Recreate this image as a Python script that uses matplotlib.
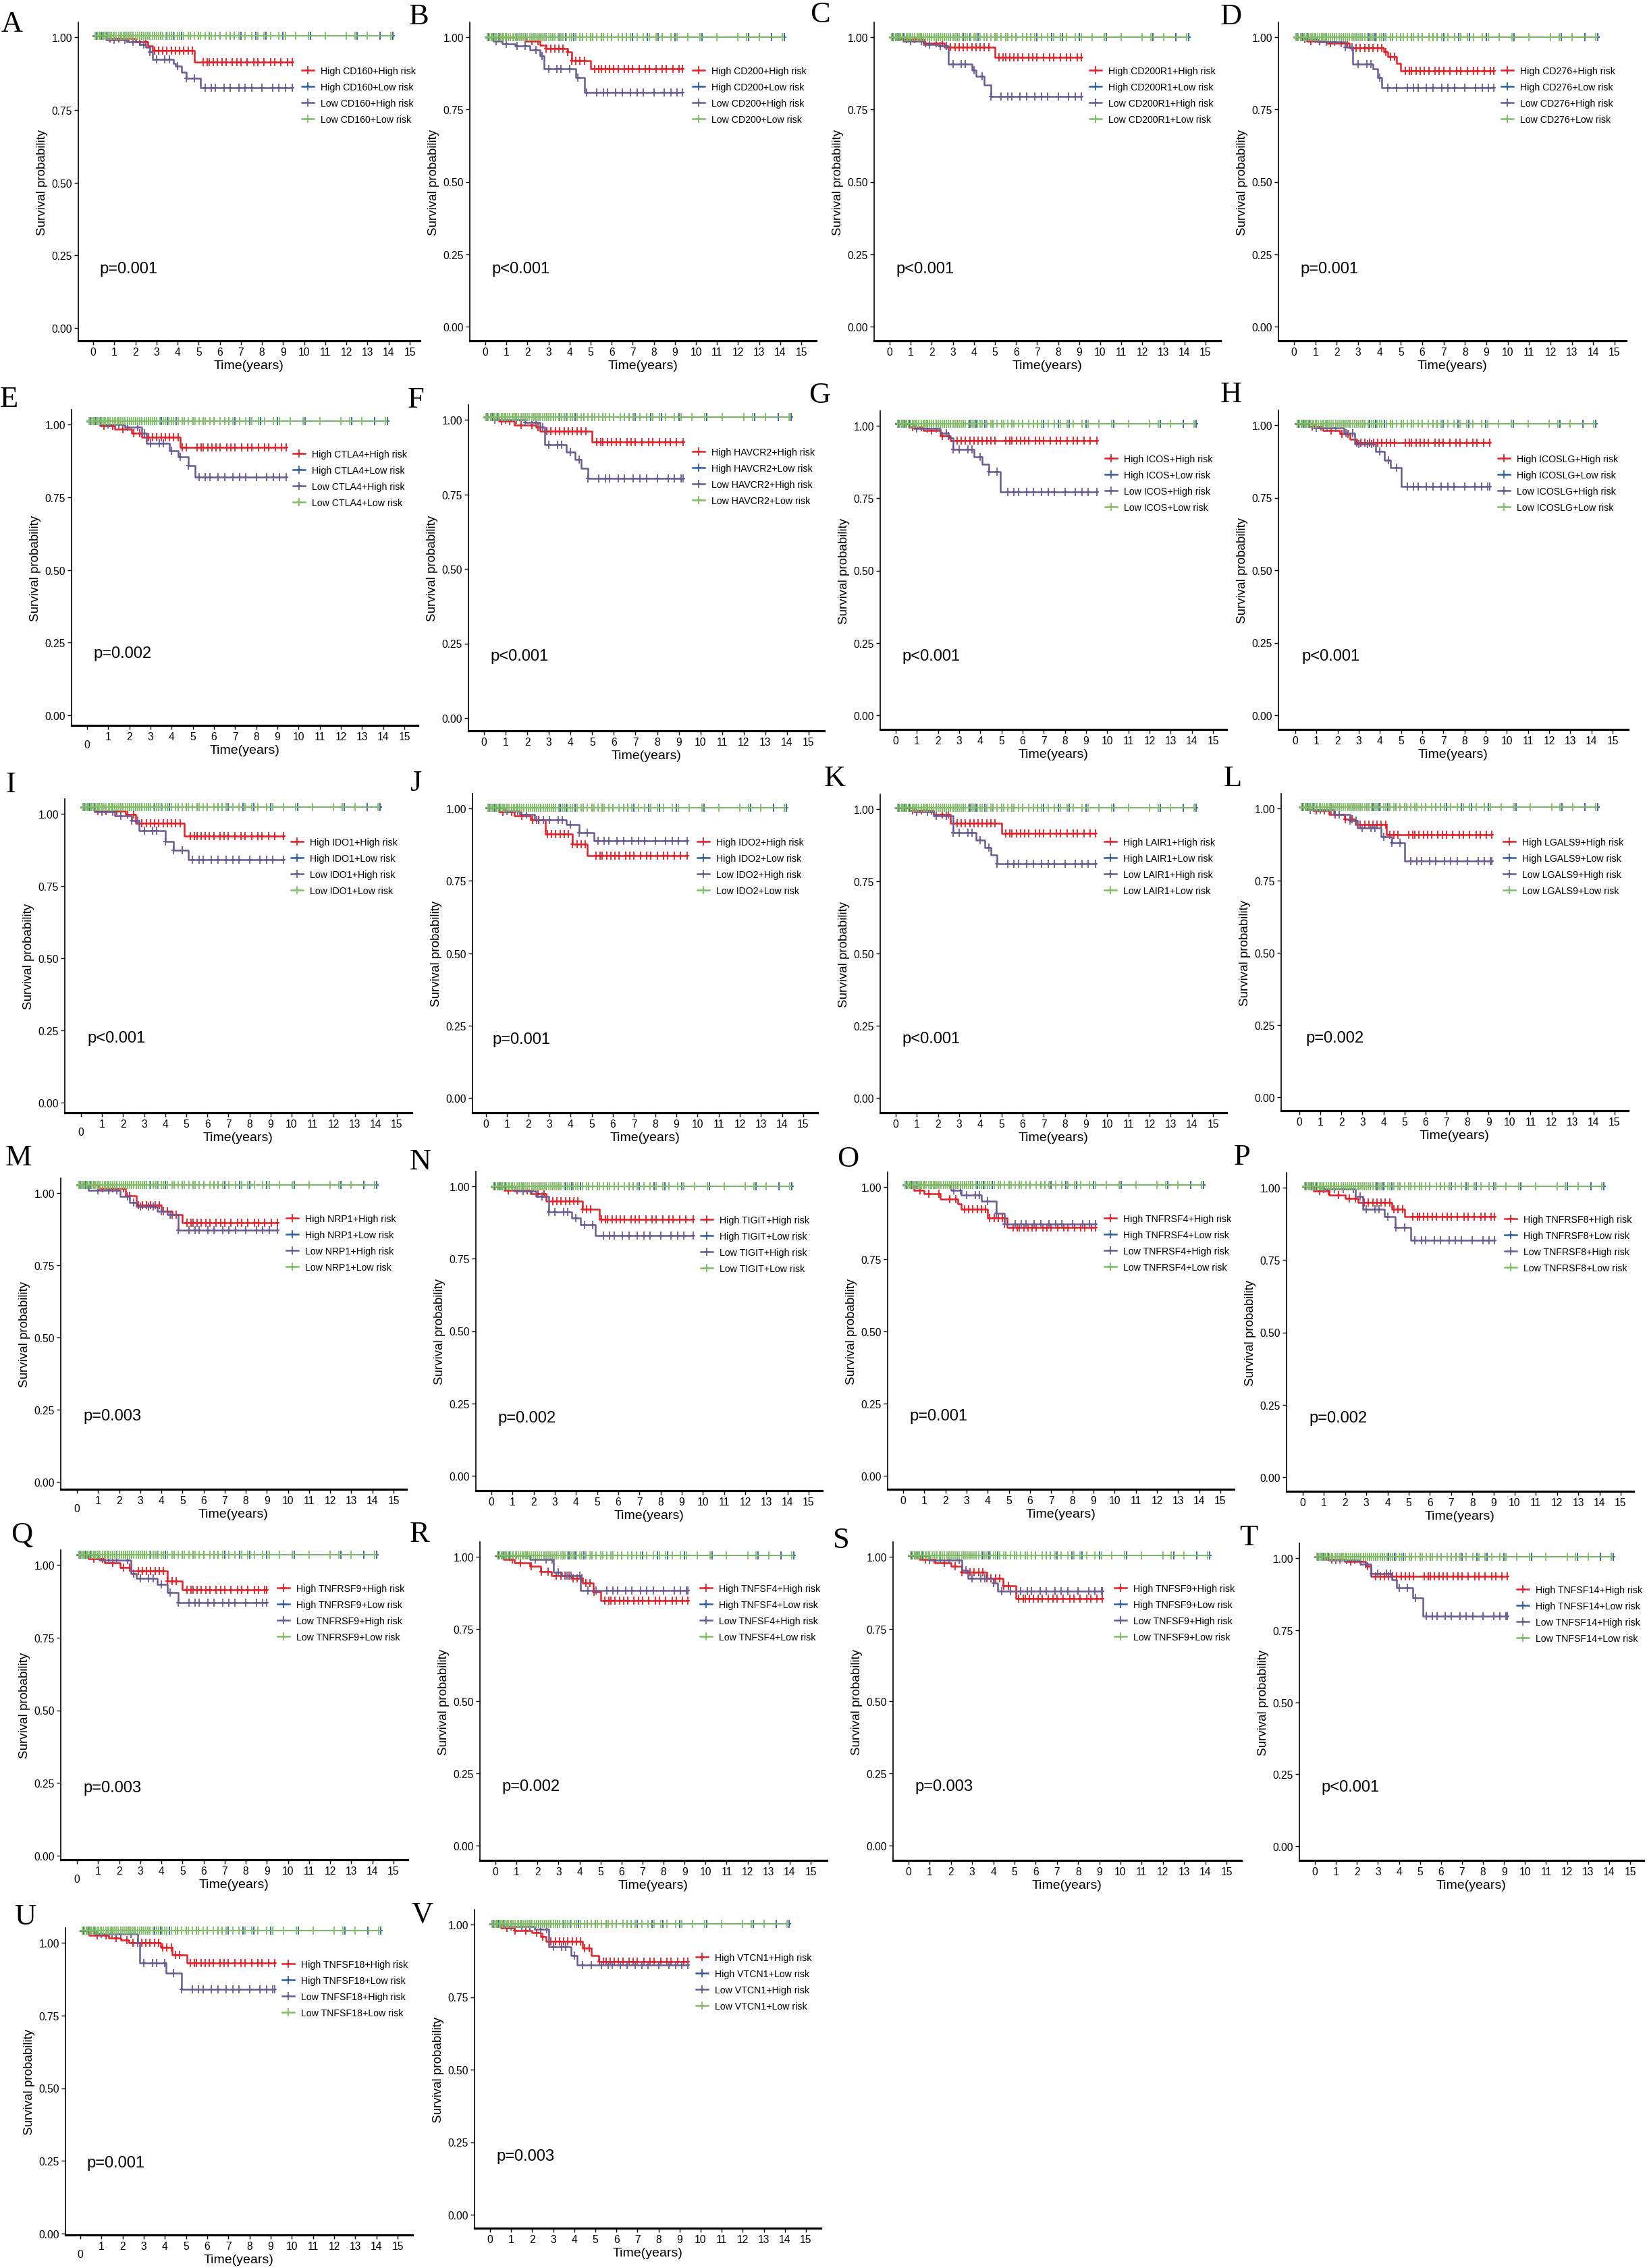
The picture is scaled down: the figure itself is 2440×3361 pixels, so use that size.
import numpy as np
import matplotlib
matplotlib.use('Agg')
import matplotlib.pyplot as plt
import matplotlib.transforms as mtransforms
from matplotlib.lines import Line2D
from matplotlib.path import Path
from matplotlib import font_manager as fm

W, H, DPI = 2440, 3362, 100

try:
    fm.findfont(fm.FontProperties(family='Liberation Sans Narrow'), fallback_to_default=False)
    NARROW, NS, NL = 'Liberation Sans Narrow', 1.0, 1.0
except ValueError:
    NARROW, NS, NL = 'Liberation Sans', 0.9, 0.85

# ---- data ----
letters = list('ABCDEFGHIJKLMNOPQRSTUV')
genes = ['CD160', 'CD200', 'CD200R1', 'CD276', 'CTLA4', 'HAVCR2', 'ICOS', 'ICOSLG',
         'IDO1', 'IDO2', 'LAIR1', 'LGALS9', 'NRP1', 'TIGIT', 'TNFRSF4', 'TNFRSF8',
         'TNFRSF9', 'TNFSF4', 'TNFSF9', 'TNFSF14', 'TNFSF18', 'VTCN1']
pvals = ['p=0.001', 'p<0.001', 'p<0.001', 'p=0.001', 'p=0.002', 'p<0.001', 'p<0.001', 'p<0.001',
         'p<0.001', 'p=0.001', 'p<0.001', 'p=0.002', 'p=0.003', 'p=0.002', 'p=0.001', 'p=0.002',
         'p=0.003', 'p=0.002', 'p=0.003', 'p<0.001', 'p=0.001', 'p=0.003']

# High gene + High risk (red): drop times and survival after each drop
red_t = [[0.6, 2.0, 2.6, 2.8, 4.8], [1.9, 2.6, 2.9, 3.9, 4.1, 5.0], [0.4, 1.6, 2.6, 5.0],
         [0.6, 1.5, 2.6, 4.2, 4.4, 4.8, 5.0], [0.6, 1.3, 2.1, 2.6, 4.4], [0.7, 1.4, 2.4, 2.6, 5.0],
         [0.6, 1.3, 2.1, 2.6], [0.6, 1.3, 2.1, 2.6, 2.9], [0.65, 2.1, 2.6, 4.9],
         [0.6, 1.35, 2.1, 2.8, 4.1, 4.8], [0.6, 1.8, 2.6, 5.0], [0.65, 1.4, 2.15, 2.65, 4.15],
         [1.05, 2.3, 2.8, 4.0, 4.5, 5.0], [0.6, 1.85, 2.6, 4.3, 5.1],
         [0.5, 1.0, 1.75, 2.6, 2.75, 4.0, 4.9], [0.5, 1.25, 2.0, 2.6, 4.2, 4.8],
         [0.55, 1.3, 2.05, 2.55, 4.3, 5.0], [0.4, 0.9, 1.65, 2.15, 2.65, 3.65, 4.15, 4.65, 5.0],
         [0.5, 1.25, 2.0, 2.5, 3.7, 4.45, 5.05], [0.5, 1.4, 2.4, 2.65],
         [0.4, 1.35, 1.9, 2.3, 3.8, 4.35, 5.05], [0.5, 1.15, 2.0, 2.4, 2.65, 4.4, 4.8, 5.15]]
red_s = [[0.99, 0.98, 0.965, 0.95, 0.91], [0.986, 0.973, 0.96, 0.948, 0.918, 0.89],
         [0.992, 0.979, 0.966, 0.93], [0.987, 0.979, 0.962, 0.949, 0.932, 0.909, 0.883],
         [0.983, 0.97, 0.957, 0.944, 0.908], [0.986, 0.973, 0.965, 0.953, 0.917],
         [0.99, 0.977, 0.96, 0.943], [0.99, 0.977, 0.964, 0.947, 0.934], [0.987, 0.975, 0.945, 0.90],
         [0.985, 0.972, 0.959, 0.908, 0.875, 0.834], [0.99, 0.977, 0.947, 0.912],
         [0.986, 0.973, 0.956, 0.939, 0.903], [0.987, 0.962, 0.929, 0.908, 0.896, 0.868],
         [0.987, 0.974, 0.949, 0.92, 0.885], [0.981, 0.969, 0.952, 0.935, 0.915, 0.886, 0.853],
         [0.982, 0.969, 0.957, 0.943, 0.92, 0.893], [0.985, 0.973, 0.956, 0.944, 0.91, 0.88],
         [0.987, 0.974, 0.962, 0.945, 0.929, 0.92, 0.904, 0.875, 0.843],
         [0.987, 0.974, 0.962, 0.941, 0.92, 0.896, 0.85], [0.99, 0.982, 0.965, 0.932],
         [0.983, 0.974, 0.966, 0.957, 0.94, 0.916, 0.888],
         [0.987, 0.978, 0.97, 0.957, 0.94, 0.918, 0.892, 0.871]]
red_end = [9.45, 9.37, 9.1, 9.35, 9.4, 9.2, 9.5, 9.2, 9.6, 9.5, 9.45, 9.15,
           9.5, 9.55, 9.1, 9.05, 9.0, 9.15, 9.15, 9.15, 9.2, 9.4]

# Low gene + High risk (purple)
purple_t = [[0.6, 1.6, 2.2, 2.5, 2.7, 2.8, 3.8, 3.9, 4.2, 4.4, 5.1], [0.4, 0.8, 1.4, 2.1, 2.6, 2.8, 4.3, 4.7],
            [0.65, 1.6, 2.3, 2.8, 3.9, 4.1, 4.5, 4.8], [0.4, 1.1, 2.4, 2.75, 3.7, 3.9, 4.1],
            [0.6, 1.8, 2.6, 2.8, 3.9, 4.3, 4.8, 5.1], [0.4, 1.9, 2.6, 2.8, 3.8, 4.2, 4.5, 4.8],
            [0.85, 2.1, 2.5, 2.7, 3.7, 4.1, 4.4, 4.95], [0.85, 2.3, 2.8, 3.8, 4.2, 4.5, 5.0],
            [0.65, 1.6, 2.4, 2.75, 4.0, 4.4, 5.1], [0.85, 1.6, 2.3, 3.8, 4.4, 5.1],
            [0.85, 1.8, 2.7, 3.8, 4.2, 4.5, 4.8], [0.4, 1.65, 2.4, 2.75, 3.9, 4.4, 5.0],
            [0.55, 2.05, 2.5, 2.8, 3.8, 4.3, 4.8], [1.1, 2.1, 2.7, 3.8, 4.2, 4.9],
            [2.25, 2.75, 3.7, 4.4, 4.8], [1.0, 2.5, 2.85, 3.85, 4.35, 5.1],
            [1.05, 2.55, 2.8, 3.8, 4.3, 4.8], [1.65, 2.75, 3.15, 4.05],
            [1.0, 2.5, 2.8, 4.0, 4.2], [0.65, 2.15, 2.65, 3.65, 3.9, 4.65, 5.15],
            [0.7, 2.7, 2.8, 4.05, 4.8], [0.65, 2.1, 2.8, 3.85, 4.15]]
purple_s = [[0.985, 0.98, 0.97, 0.96, 0.945, 0.918, 0.905, 0.895, 0.874, 0.853, 0.822],
            [0.986, 0.977, 0.969, 0.956, 0.935, 0.89, 0.859, 0.81],
            [0.987, 0.975, 0.97, 0.907, 0.886, 0.864, 0.835, 0.794],
            [0.992, 0.983, 0.966, 0.907, 0.89, 0.86, 0.825],
            [0.987, 0.979, 0.957, 0.923, 0.897, 0.876, 0.845, 0.807],
            [0.99, 0.982, 0.965, 0.907, 0.882, 0.857, 0.828, 0.795],
            [0.985, 0.968, 0.951, 0.913, 0.887, 0.861, 0.835, 0.765],
            [0.985, 0.968, 0.93, 0.904, 0.874, 0.848, 0.784],
            [0.983, 0.97, 0.953, 0.919, 0.881, 0.851, 0.817],
            [0.989, 0.976, 0.959, 0.942, 0.913, 0.886],
            [0.986, 0.973, 0.914, 0.888, 0.863, 0.837, 0.805],
            [0.99, 0.973, 0.952, 0.926, 0.896, 0.875, 0.813],
            [0.979, 0.958, 0.937, 0.925, 0.908, 0.896, 0.842],
            [0.983, 0.966, 0.912, 0.891, 0.866, 0.831],
            [0.981, 0.964, 0.944, 0.902, 0.865],
            [0.99, 0.965, 0.92, 0.895, 0.857, 0.812],
            [0.981, 0.935, 0.919, 0.898, 0.869, 0.836],
            [0.987, 0.941, 0.929, 0.879],
            [0.983, 0.949, 0.92, 0.904, 0.877],
            [0.986, 0.973, 0.94, 0.92, 0.89, 0.857, 0.793],
            [0.987, 0.957, 0.888, 0.852, 0.797],
            [0.991, 0.983, 0.922, 0.892, 0.859]]
purple_end = red_end

# censoring times (years)
red_cens = [0.3, 0.8, 1.2, 1.7, 2.2, 2.5, 2.9, 3.1, 3.3, 3.5, 3.7, 3.9, 4.1, 4.3, 4.5, 4.7,
            5.2, 5.4, 5.5, 5.7, 5.9, 6.1, 6.3, 6.6, 6.8, 7.0, 7.3, 7.6, 7.8, 8.1, 8.4, 8.6, 8.9, 9.2]
purple_cens = [0.5, 1.0, 1.5, 1.9, 2.4, 2.7, 3.0, 3.4, 3.6, 4.0, 4.4, 4.8, 5.3, 5.6, 5.8,
               6.2, 6.5, 6.9, 7.2, 7.5, 8.0, 8.5, 8.8, 9.1]
green_cens = [0.1, 0.2, 0.3, 0.35, 0.45, 0.5, 0.6, 0.7, 0.8, 0.85, 0.95, 1.0, 1.1, 1.2, 1.3, 1.35,
              1.45, 1.5, 1.6, 1.7, 1.8, 1.9, 2.0, 2.1, 2.2, 2.3, 2.4, 2.5, 2.6, 2.7, 2.8, 2.9, 3.0,
              3.1, 3.2, 3.3, 3.45, 3.6, 3.7, 3.85, 4.0, 4.1, 4.3, 4.5, 4.6, 4.8, 5.0, 5.1, 5.3, 5.5,
              5.6, 5.8, 6.0, 6.3, 6.5, 6.7, 6.9, 7.2, 7.5, 7.8, 8.1, 8.4, 8.8, 9.1, 9.6, 10.2, 11.0,
              12.0, 12.4, 13.0, 14.1]
blue_cens = [0.15, 0.4, 0.65, 1.0, 1.5, 1.9, 2.3, 2.6, 2.9, 3.2, 3.5, 3.8, 4.2, 4.6, 5.0, 5.5,
             6.0, 6.5, 6.7, 7.0, 7.7, 8.2, 9.0, 10.3, 12.5, 13.6, 14.2]

# ---- layout (pixels of the 2440x3362 canvas) ----
# left, right, x(0), x(15), y(1.00), y(0.00), x-axis y, curve shift
geom = [(116, 622, 138, 607, 56, 487, 506, 2), (696, 1209, 719, 1187, 56, 485, 506, 0),
        (1295, 1808, 1318, 1786, 56, 485, 506, 0), (1894, 2409, 1917, 2392, 56, 485, 506, 0),
        (106, 619, 129, 599, 630, 1061, 1076, 5.5), (694, 1221, 717, 1198, 623, 1065, 1084, 4),
        (1304, 1817, 1327, 1797, 632, 1061, 1082, 2.6), (1894, 2412, 1919, 2389, 631, 1061, 1082, 2),
        (96, 610, 120, 588, 1207, 1635, 1650, 10), (700, 1211, 720, 1190, 1199, 1628, 1650, 1),
        (1304, 1817, 1327, 1797, 1200, 1628, 1650, 2), (1898, 2412, 1925, 2392, 1199, 1627, 1647, 2.5),
        (90, 602, 114, 583, 1769, 2197, 2208, 12.5), (705, 1218, 728, 1198, 1759, 2188, 2210, 0),
        (1315, 1828, 1338, 1808, 1760, 2188, 2208, 3), (1906, 2420, 1930, 2401, 1761, 2190, 2211, 2.5),
        (90, 604, 114, 583, 2320, 2751, 2757, 15), (711, 1225, 734, 1201, 2308, 2736, 2758, 2),
        (1323, 1839, 1346, 1817, 2308, 2736, 2758, 2), (1925, 2435, 1948, 2415, 2310, 2737, 2758, 2.5),
        (97, 611, 119, 589, 2880, 3311, 3313, 18.5), (703, 1216, 726, 1194, 2853, 3283, 3303, 0.7)]
legend_xy = [(447, 103), (1026, 103), (1614, 103), (2224, 103), (434, 671), (1026, 668),
             (1637, 678), (2219, 678), (431, 1246), (1033, 1246), (1636, 1246), (2227, 1246),
             (424, 1804), (1038, 1806), (1636, 1804), (2229, 1805), (411, 2352), (1037, 2352),
             (1651, 2352), (2247, 2354), (418, 2909), (1031, 2899)]
letter_xy = [(2, 47), (606, 36), (1200, 33), (1808, 36), (0, 603), (604, 604), (1198, 597),
             (1808, 596), (8, 1174), (607, 1172), (1221, 1165), (1813, 1165), (8, 1727),
             (607, 1733), (1240, 1729), (1828, 1726), (16, 2286), (607, 2285), (1234, 2294),
             (1836, 2290), (21, 2852), (609, 2849)]
first_col = {'E', 'I', 'M', 'Q', 'U'}

colors = ['#E41F26', '#2E5DA8', '#6A5A94', '#7DBE62']
censor_mark = Path([(-0.6, 0), (0.6, 0), (0, -1), (0, 1)],
                   [Path.MOVETO, Path.LINETO, Path.MOVETO, Path.LINETO])

plt.rcParams['font.family'] = [NARROW, 'DejaVu Sans']
fig = plt.figure(figsize=(W / DPI, H / DPI), dpi=DPI, facecolor='white')

leg_fs = 12 * NL
leg_fs_px = leg_fs * DPI / 72
leg_spacing = (26 - 1.15 * leg_fs_px) / leg_fs_px


def surv_at(t, times, levels):
    val = 1.0
    for tt, ss in zip(times, levels):
        if tt <= t:
            val = ss
    return val


def draw_group(ax, trans, times, levels, end, cens, color, lw):
    xs = [0] + list(times) + [end]
    ys = [1.0] + list(levels) + [levels[-1] if levels else 1.0]
    ax.step(xs, ys, where='post', color=color, lw=lw, transform=trans, clip_on=False)
    ct = [c for c in cens if c < end] + [end]
    cy = [surv_at(c, times, levels) for c in ct]
    ax.plot(ct, cy, ls='none', marker=censor_mark, ms=8, mew=1.3, mec=color, mfc='none',
            transform=trans, clip_on=False)


for i, letter in enumerate(letters):
    left, right, x0, x15, y1, y0, bottom, shift = geom[i]
    top = y1 - 22
    ax = fig.add_axes([left / W, 1 - bottom / H, (right - left) / W, (bottom - top) / H])
    sx = (x15 - x0) / 15
    u = y0 - y1
    ax.set_xlim(-(x0 - left) / sx, 15 + (right - x15) / sx)
    ax.set_ylim(-(bottom - y0) / u, 1 + (y1 - top) / u)
    trans = ax.transData + mtransforms.ScaledTranslation(0, shift / DPI, fig.dpi_scale_trans)

    draw_group(ax, trans, red_t[i], red_s[i], red_end[i], red_cens, colors[0], 1.8)
    draw_group(ax, trans, [], [], blue_cens[-1], blue_cens, colors[1], 1.3)
    draw_group(ax, trans, purple_t[i], purple_s[i], purple_end[i], purple_cens, colors[2], 1.8)
    draw_group(ax, trans, [], [], green_cens[-1], green_cens, colors[3], 1.3)

    ax.text(0.3, 0.2, pvals[i], transform=trans, ha='left', va='center', fontsize=19 * NS)

    ax.set_xticks(range(16))
    ax.set_yticks([0, 0.25, 0.5, 0.75, 1.0])
    ax.set_yticklabels(['0.00', '0.25', '0.50', '0.75', '1.00'])
    ax.tick_params(axis='both', direction='out', length=4, width=1.0,
                   labelsize=12.5 * NS, pad=2.5)
    if letter in first_col:
        ax.xaxis.get_major_ticks()[0].set_pad(11)
    for side in ('top', 'right'):
        ax.spines[side].set_visible(False)
    ax.spines['left'].set_linewidth(1.2)
    ax.spines['bottom'].set_linewidth(2.3)

    wpx, hpx = right - left, bottom - top
    ax.set_ylabel('Survival probability', family='Liberation Sans', fontsize=13.5)
    ax.yaxis.set_label_coords(-45 / wpx, 0.5)
    ax.set_xlabel('Time(years)', family='Liberation Sans', fontsize=14)
    ax.xaxis.set_label_coords(0.5, -28 / hpx)

    g = genes[i]
    labels = [f'High {g}+High risk', f'High {g}+Low risk', f'Low {g}+High risk', f'Low {g}+Low risk']
    handles = [Line2D([], [], color=c, lw=1.8, marker=censor_mark, ms=8, mew=1.3, mec=c, mfc='none')
               for c in colors]
    lx, ly = legend_xy[i]
    ax.legend(handles, labels, loc='center left', bbox_to_anchor=(lx / W, 1 - (ly + 39) / H),
              bbox_transform=fig.transFigure, frameon=False, borderpad=0, borderaxespad=0,
              numpoints=1, handlelength=18 / leg_fs_px, handletextpad=10 / leg_fs_px,
              labelspacing=leg_spacing, fontsize=leg_fs)

    tx, ty = letter_xy[i]
    fig.text(tx / W, 1 - ty / H, letter, family='Liberation Serif', fontsize=32,
             ha='left', va='baseline')

fig.savefig('out.png', dpi=DPI, facecolor='white')
